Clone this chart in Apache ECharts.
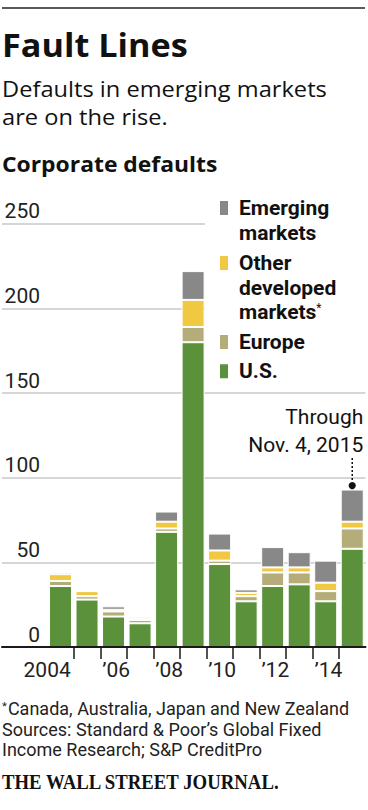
<!DOCTYPE html>
<html>
<head>
<meta charset="utf-8">
<script src="https://cdn.jsdelivr.net/npm/echarts@6/dist/echarts.min.js"></script>
<style>
html,body{margin:0;padding:0;background:#fff;}
#chart{width:368px;height:810px;}
</style>
</head>
<body>
<div id="chart"></div>
<script>
// ---- data ----
const years = [2004, 2005, 2006, 2007, 2008, 2009, 2010, 2011, 2012, 2013, 2014, 2015];
const usDefaults = [36, 28, 18, 14, 68, 180, 49, 27, 36, 37, 27, 58];
const europeDefaults = [3, 2, 3, 2, 2, 9, 2, 3, 8, 7, 6, 12];
const otherDevelopedDefaults = [4, 3, 1, 1, 4, 16, 6, 2, 3, 3, 5, 4];
const emergingDefaults = [1, 0, 2, 1, 6, 17, 10, 2, 12, 9, 13, 19];
const yTicks = [0, 50, 100, 150, 200, 250];
const xLabelYears = [2004, 2006, 2008, 2010, 2012, 2014];
const xLabels = ['2004', '\u201906', '\u201908', '\u201910', '\u201912', '\u201914'];
const seriesNames = ['U.S.', 'Europe', 'Other developed markets', 'Emerging markets'];

// ---- layout / style ----
const X_MIN = 2001.795, X_MAX = 2015.50;          // outer axis frame (gridlines span full width)
const colors = {us: '#5b913b', europe: '#b4ad79', other: '#f1c842', em: '#888888'};
const FONT = 'Roboto';
const HEAD = '"Open Sans"';

const chart = echarts.init(document.getElementById('chart'), null, {renderer: 'svg'});

const boundaryTicks = years.slice(0, -1).map(y => y + 0.5);
const firstLabelPos = [xLabelYears[0] + 0.5];
const otherLabelPos = xLabelYears.slice(1).map(y => y - 0.5);
function labelFor(v) {
  const i = xLabelYears.findIndex(y => Math.abs(y + 0.5 - v) < 0.01 || Math.abs(y - 0.5 - v) < 0.01);
  return i >= 0 ? xLabels[i] : '';
}

function mkSeries(name, arr, color) {
  return {
    name: name, type: 'bar', stack: 'total', barWidth: 23,
    xAxisIndex: 2, yAxisIndex: 1,
    data: arr.slice(),
    itemStyle: {color: color, borderColor: '#fff', borderWidth: 1},
    emphasis: {disabled: true}
  };
}

const legendBase = {
  orient: 'vertical', left: 218, padding: 0, itemWidth: 10, itemHeight: 16,
  icon: 'rect', selectedMode: false
};
function legText(lines) {
  return {fontFamily: FONT, fontWeight: 'bold', fontSize: 21, lineHeight: 24.5, color: '#111',
    padding: [24.5 * (lines - 1), 0, 0, 5],
    rich: {sup: {fontFamily: FONT, fontSize: 12, fontWeight: 'normal', color: '#111', padding: [0, 0, 9, 0]}}};
}

const yMin = yTicks[0], yMax = yTicks[yTicks.length - 1];

const option = {
  animation: false,
  color: [colors.us, colors.europe, colors.other, colors.em],
  textStyle: {fontFamily: FONT},
  grid: [
    {left: 2, right: 2.5, top: 223.7, bottom: 163},
    {left: 47.24, right: 2.5, top: 223.7, bottom: 163}
  ],
  xAxis: [
    {
      type: 'value', gridIndex: 0, min: X_MIN, max: X_MAX, position: 'bottom', z: 5,
      axisLine: {show: true, onZero: false, lineStyle: {color: '#1a1a1a', width: 2}},
      axisTick: {show: true, length: 12, customValues: boundaryTicks, lineStyle: {color: '#1a1a1a', width: 1.5}},
      axisLabel: {customValues: otherLabelPos, formatter: labelFor, align: 'left', margin: 12,
        fontSize: 21, color: '#222', fontFamily: FONT, padding: [0, 0, 0, 2]},
      splitLine: {show: false}
    },
    {
      type: 'value', gridIndex: 0, min: X_MIN, max: X_MAX, position: 'bottom',
      axisLine: {show: false}, axisTick: {show: false},
      axisLabel: {customValues: firstLabelPos, formatter: labelFor, align: 'right', margin: 12,
        fontSize: 21, color: '#222', fontFamily: FONT, padding: [0, 3, 0, 0]},
      splitLine: {show: false}
    },
    {
      type: 'category', gridIndex: 1, data: years.map(String), position: 'bottom',
      axisLine: {show: false}, axisTick: {show: false}, axisLabel: {show: false}, splitLine: {show: false}
    }
  ],
  yAxis: [
    {
      type: 'value', gridIndex: 0, min: yMin, max: yMax, interval: yTicks[1] - yTicks[0],
      axisLine: {show: false}, axisTick: {show: false},
      splitLine: {show: true, lineStyle: {color: '#c8c8c8', width: 1.5}},
      axisLabel: {inside: true, align: 'right', verticalAlign: 'bottom', margin: 38, padding: [0, 0, 2, 0],
        fontSize: 21, color: '#222', fontFamily: FONT, formatter: v => String(v)}
    },
    {
      type: 'value', gridIndex: 1, min: yMin, max: yMax,
      axisLine: {show: false}, axisTick: {show: false}, axisLabel: {show: false}, splitLine: {show: false}
    }
  ],
  legend: [
    Object.assign({}, legendBase, {data: [seriesNames[3]], top: 171.25,
      formatter: () => 'Emerging\nmarkets', textStyle: legText(2)}),
    Object.assign({}, legendBase, {data: [seriesNames[2]], top: 201.75,
      formatter: () => 'Other\ndeveloped\nmarkets{sup|*}', textStyle: legText(3)}),
    Object.assign({}, legendBase, {data: [seriesNames[1]], top: 329.75,
      formatter: () => 'Europe', textStyle: legText(1)}),
    Object.assign({}, legendBase, {data: [seriesNames[0]], top: 359,
      formatter: () => 'U.S.', textStyle: legText(1)})
  ],
  series: [
    mkSeries(seriesNames[0], usDefaults, colors.us),
    mkSeries(seriesNames[1], europeDefaults, colors.europe),
    mkSeries(seriesNames[2], otherDevelopedDefaults, colors.other),
    mkSeries(seriesNames[3], emergingDefaults, colors.em)
  ]
};
chart.setOption(option);

// annotation anchored to 2015 bar top
const last = years.length - 1;
const total = usDefaults[last] + europeDefaults[last] + otherDevelopedDefaults[last] + emergingDefaults[last];
const p = chart.convertToPixel({xAxisIndex: 2, yAxisIndex: 1}, [last, total]);

function txt(x, y, text, font, extra, sx) {
  return {type: 'text', x: x, y: y, z: 10, scaleX: sx || 1,
    style: Object.assign({text: text, font: font, fill: '#111', align: 'left', verticalAlign: 'middle'}, extra || {})};
}

chart.setOption({
  graphic: {elements: [
    {type: 'rect', z: 1, silent: true, shape: {x: 205, y: 190, width: 163, height: 196}, style: {fill: '#fff'}},
    {type: 'line', z: 10, shape: {x1: 2, y1: 8, x2: 365, y2: 8}, style: {stroke: '#222', lineWidth: 1.5}},
    txt(2, 45.4, 'Fault Lines', 'bold 32px ' + HEAD, null, 1.07),
    txt(2, 88.4, 'Defaults in emerging markets', '22px ' + HEAD, null, 1.075),
    txt(2, 116.7, 'are on the rise.', '22px ' + HEAD, null, 1.075),
    txt(2, 163.4, 'Corporate defaults', 'bold 22px ' + HEAD, null, 1.04),
    // annotation
    {type: 'line', z: 10, shape: {x1: p[0], y1: p[1] - 31.5, x2: p[0], y2: p[1] - 7.5},
      style: {stroke: '#111', lineWidth: 1.5, lineDash: [2, 2]}},
    {type: 'circle', z: 10, shape: {cx: p[0], cy: p[1] - 4, r: 3.6}, style: {fill: '#111'}},
    txt(p[0] + 11, p[1] - 72.8, 'Through', '21px ' + FONT, {align: 'right'}),
    txt(p[0] + 11, p[1] - 44.1, 'Nov. 4, 2015', '21px ' + FONT, {align: 'right'}),
    // footer
    {type: 'text', x: 2, y: 709.3, z: 10, scaleX: 1.03, style: {text: '{sup|*}Canada, Australia, Japan and New Zealand',
      font: '17.5px ' + FONT, fill: '#222', verticalAlign: 'middle',
      rich: {sup: {fontSize: 11, fontFamily: FONT, fill: '#222', padding: [0, 1, 6, 0]}}}},
    txt(2, 729.8, 'Sources: Standard & Poor\u2019s Global Fixed', '17.5px ' + FONT, {fill: '#222'}, 1.03),
    txt(2, 750.3, 'Income Research; S&P CreditPro', '17.5px ' + FONT, {fill: '#222'}, 1.03),
    txt(2, 781.7, 'THE WALL STREET JOURNAL.', 'bold 22px "Liberation Serif"', null, 0.853)
  ]}
});
</script>
</body>
</html>
